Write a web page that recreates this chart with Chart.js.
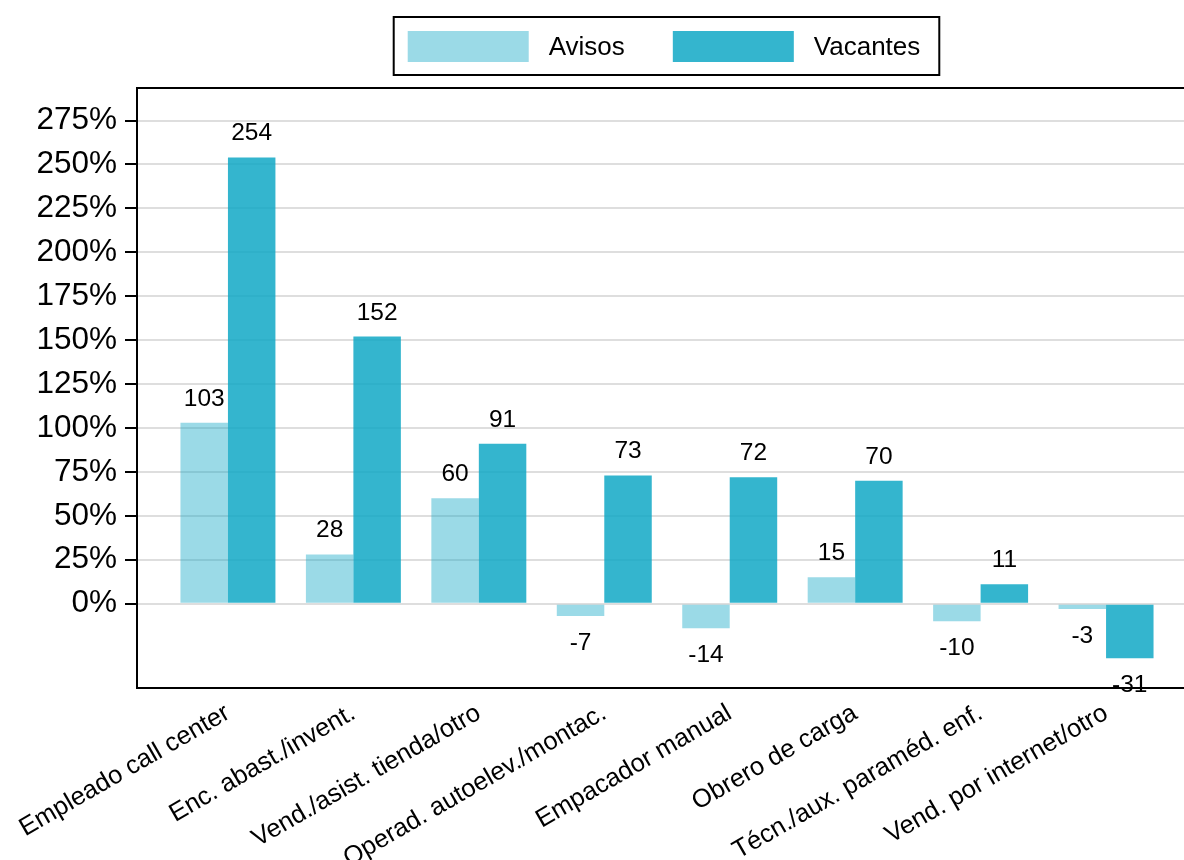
<!DOCTYPE html>
<html>
<head>
<meta charset="utf-8">
<script src="https://cdn.jsdelivr.net/npm/chart.js@4"></script>
<style>
    html, body { margin: 0; padding: 0; background: #fff; overflow: hidden; }
    #wrap { width: 1200px; height: 860px; }
</style>
</head>
<body>
<div id="wrap"><canvas id="chart" width="1200" height="860"></canvas></div>
<script>
const categories = [
    "Empleado call center",
    "Enc. abast./invent.",
    "Vend./asist. tienda/otro",
    "Operad. autoelev./montac.",
    "Empacador manual",
    "Obrero de carga",
    "Técn./aux. paraméd. enf.",
    "Vend. por internet/otro"
];
const avisos = [103, 28, 60, -7, -14, 15, -10, -3];
const vacantes = [254, 152, 91, 73, 72, 70, 11, -31];
const yTicks = [0, 25, 50, 75, 100, 125, 150, 175, 200, 225, 250, 275];

const FONT = "'Liberation Sans', Arial, Helvetica, sans-serif";
Chart.defaults.font.family = FONT;
Chart.defaults.color = "#000";

// valores encima / debajo de cada barra
const valueLabels = {
    id: "valueLabels",
    afterDatasetsDraw(chart) {
        const ctx = chart.ctx;
        ctx.save();
        ctx.font = "24.5px " + FONT;
        ctx.fillStyle = "#000";
        ctx.textAlign = "center";
        ctx.textBaseline = "alphabetic";
        chart.data.datasets.forEach((ds, di) => {
            chart.getDatasetMeta(di).data.forEach((bar, i) => {
                const v = ds.data[i].y;
                const y = v >= 0 ? bar.y - 17 : bar.y + 34;
                ctx.fillText(String(v), bar.x, y);
            });
        });
        ctx.restore();
    }
};

// leyenda con marco + borde superior del area
const boxedLegend = {
    id: "boxedLegend",
    afterDraw(chart) {
        const ctx = chart.ctx;
        const area = chart.chartArea;
        ctx.save();

        ctx.strokeStyle = "#000";
        ctx.lineWidth = 2;
        ctx.beginPath();
        ctx.moveTo(area.left - 1, area.top);
        ctx.lineTo(area.right, area.top);
        ctx.stroke();

        ctx.font = "26px " + FONT;
        const sw = 121, sh = 31, gap = 20, spacing = 48;
        const items = chart.data.datasets.map(ds => ({
            text: ds.label,
            color: ds.backgroundColor,
            w: sw + gap + ctx.measureText(ds.label).width
        }));
        const total = items.reduce((s, it) => s + it.w, 0) + spacing * (items.length - 1);
        let x = (area.left + area.right) / 2 - total / 2 - 3;
        const top = 31;

        ctx.strokeRect(x - 14, 17, total + 33, 58);
        ctx.textAlign = "left";
        ctx.textBaseline = "middle";
        for (const it of items) {
            ctx.fillStyle = it.color;
            ctx.fillRect(x, top, sw, sh);
            ctx.fillStyle = "#000";
            ctx.fillText(it.text, x + sw + gap, top + sh / 2 + 1);
            x += it.w + spacing;
        }
        ctx.restore();
    }
};

const ctx = document.getElementById("chart").getContext("2d");
new Chart(ctx, {
    type: "bar",
    data: {
        datasets: [
            {
                label: "Avisos",
                data: avisos.map((v, i) => ({ x: i, y: v })),
                backgroundColor: "rgba(17, 168, 197, 0.42)",
                borderWidth: 0
            },
            {
                label: "Vacantes",
                data: vacantes.map((v, i) => ({ x: i, y: v })),
                backgroundColor: "rgba(17, 168, 197, 0.85)",
                borderWidth: 0
            }
        ]
    },
    options: {
        responsive: false,
        animation: false,
        barPercentage: 1,
        categoryPercentage: 0.757,
        layout: { padding: { top: 88, right: 3, left: 0, bottom: 0 } },
        plugins: {
            legend: { display: false },
            tooltip: { enabled: false }
        },
        scales: {
            x: {
                type: "linear",
                offset: false,
                min: -0.725,
                max: 7.725,
                grid: { display: false, offset: false },
                border: { display: true, color: "#000", width: 2 },
                afterBuildTicks: scale => {
                    scale.ticks = categories.map((c, i) => ({ value: i }));
                },
                afterFit: scale => {
                    scale.height = 172;
                    scale.paddingLeft = 0;
                    scale.paddingRight = 0;
                },
                ticks: {
                    autoSkip: false,
                    minRotation: 30,
                    maxRotation: 30,
                    padding: 2,
                    color: "#000",
                    font: { size: 25.5 },
                    callback: v => categories[v]
                }
            },
            y: {
                min: -48,
                max: 293.5,
                border: { display: true, color: "#000", width: 2 },
                grid: {
                    color: "#dedede",
                    lineWidth: 2,
                    drawTicks: true,
                    tickLength: 12,
                    tickColor: "#000",
                    tickWidth: 2
                },
                afterBuildTicks: scale => {
                    scale.ticks = yTicks.map(v => ({ value: v }));
                },
                afterFit: scale => { scale.width = 137; },
                ticks: {
                    padding: 8,
                    color: "#000",
                    font: { size: 31.5 },
                    callback: v => v + "%"
                }
            }
        }
    },
    plugins: [valueLabels, boxedLegend]
});
</script>
</body>
</html>
